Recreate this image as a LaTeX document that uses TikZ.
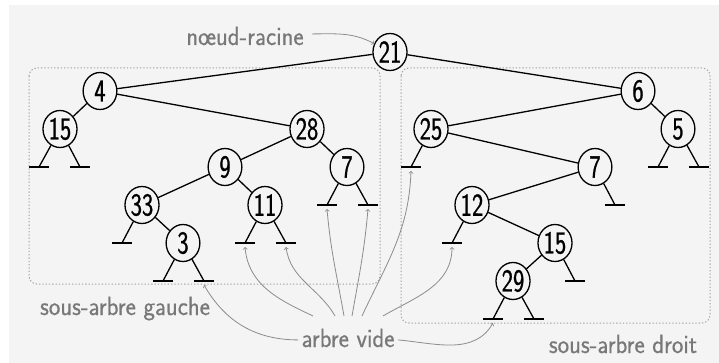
\documentclass[tikz,border=0pt]{standalone}
\usepackage{fontspec}
\usetikzlibrary{shapes.geometric}
\newfontfamily\chiffres[FakeBold=1.0]{Latin Modern Sans}
\newfontfamily\legende[FakeBold=0.5]{Latin Modern Sans}

\definecolor{fond}{HTML}{F4F4F4}
\definecolor{gristexte}{HTML}{787878}
\definecolor{grisfleche}{HTML}{8C8C8C}
\definecolor{grisboite}{HTML}{A0A0A0}

\tikzset{every path/.style={line width=1.3pt}}
\tikzset{
  noeud/.style={draw, ellipse, inner sep=1pt, minimum width=45pt, minimum height=37pt,
    xscale=0.75, font=\chiffres\fontsize{32}{36}\selectfont},
  etiq/.style={anchor=base, text=gristexte, xscale=0.92, inner sep=3pt,
    font=\legende\fontsize{26.5}{30}\selectfont},
  boite/.style={draw=grisboite, dotted, line width=1pt, rounded corners=8pt},
  fleche/.style={->, draw=grisfleche, line width=0.8pt}
}

\begin{document}
\begin{tikzpicture}[x=1pt,y=-1pt]
\useasboundingbox (0,0) rectangle (719,363);
\fill[fond] (9,5) rectangle (719,363);

% les deux sous-arbres
\draw[boite] (29,68) rectangle (380,284);
\draw[boite] (401,68) rectangle (710,323);

% l'arbre
\node[noeud] (n21) at (390,52) {21};
\node[noeud] (n4) at (100,91) {4};
\node[noeud] (n6) at (638,91) {6};
\node[noeud] (n15) at (60,129) {15};
\node[noeud] (n28) at (307,129) {28};
\node[noeud] (n25) at (431,129) {25};
\node[noeud] (n5) at (678,129) {5};
\node[noeud] (n9) at (225,167) {9};
\node[noeud] (n7a) at (347,167) {7};
\node[noeud] (n7b) at (595,167) {7};
\node[noeud] (n33) at (142,205) {33};
\node[noeud] (n11) at (265,205) {11};
\node[noeud] (n12) at (472,205) {12};
\node[noeud] (n3) at (183,243) {3};
\node[noeud] (n15b) at (555,243) {15};
\node[noeud] (n29) at (513,281) {29};
\foreach \a/\b in {n21/n4, n21/n6, n4/n15, n4/n28, n28/n9, n28/n7a, n9/n33, n9/n11,
  n33/n3, n6/n25, n6/n5, n25/n7b, n7b/n12, n12/n15b, n15b/n29}
  \draw (\a) -- (\b);

% les arbres vides
\coordinate (v1) at (39,167);
\coordinate (v2) at (80,167);
\coordinate (v3) at (122,243);
\coordinate (v4) at (163,281);
\coordinate (v5) at (204,281);
\coordinate (v6) at (245,243);
\coordinate (v7) at (286,243);
\coordinate (v8) at (327,205);
\coordinate (v9) at (368,205);
\coordinate (v10) at (411,167);
\coordinate (v11) at (615,205);
\coordinate (v12) at (452,243);
\coordinate (v13) at (575,281);
\coordinate (v14) at (493,319);
\coordinate (v15) at (534,319);
\coordinate (v16) at (658,167);
\coordinate (v17) at (699,167);
\foreach \a/\b in {n15/v1, n15/v2, n33/v3, n3/v4, n3/v5, n11/v6, n11/v7, n7a/v8, n7a/v9,
  n25/v10, n7b/v11, n12/v12, n15b/v13, n29/v14, n29/v15, n5/v16, n5/v17} {
  \draw (\a) -- (\b);
  \draw ([xshift=-10pt]\b) -- ([xshift=10pt]\b);
}

% etiquettes
\node[etiq] (racine) at (245,45) {nœud-racine};
\node[etiq] (gauche) at (125,315) {sous-arbre gauche};
\node[etiq] (droit) at (623,353) {sous-arbre droit};
\node[etiq] (vide) at (348,347) {arbre vide};

\draw[fleche] ([xshift=5pt,yshift=2pt]racine.east) to[out=0,in=155] (n21);
\draw[fleche] ([yshift=-2pt]vide.west) to[out=180,in=-60] ([yshift=-4pt]v5);
\draw[fleche] ([xshift=-35pt,yshift=9pt]vide.north) to[out=155,in=-85] ([yshift=-4pt]v6);
\draw[fleche] ([xshift=-13pt,yshift=9pt]vide.north) to[out=120,in=-82] ([yshift=-4pt]v7);
\draw[fleche] ([xshift=-4pt,yshift=9pt]vide.north) to[out=100,in=-85] ([yshift=-4pt]v8);
\draw[fleche] ([xshift=4pt,yshift=9pt]vide.north) to[out=80,in=-95] ([yshift=-4pt]v9);
\draw[fleche] ([xshift=14pt,yshift=9pt]vide.north) to[out=65,in=-92] ([yshift=-4pt]v10);
\draw[fleche] ([xshift=35pt,yshift=9pt]vide.north) to[out=30,in=-90] ([yshift=-4pt]v12);
\draw[fleche] ([yshift=-2pt]vide.east) to[out=-5,in=-120] ([yshift=-4pt]v14);

\end{tikzpicture}
\end{document}
